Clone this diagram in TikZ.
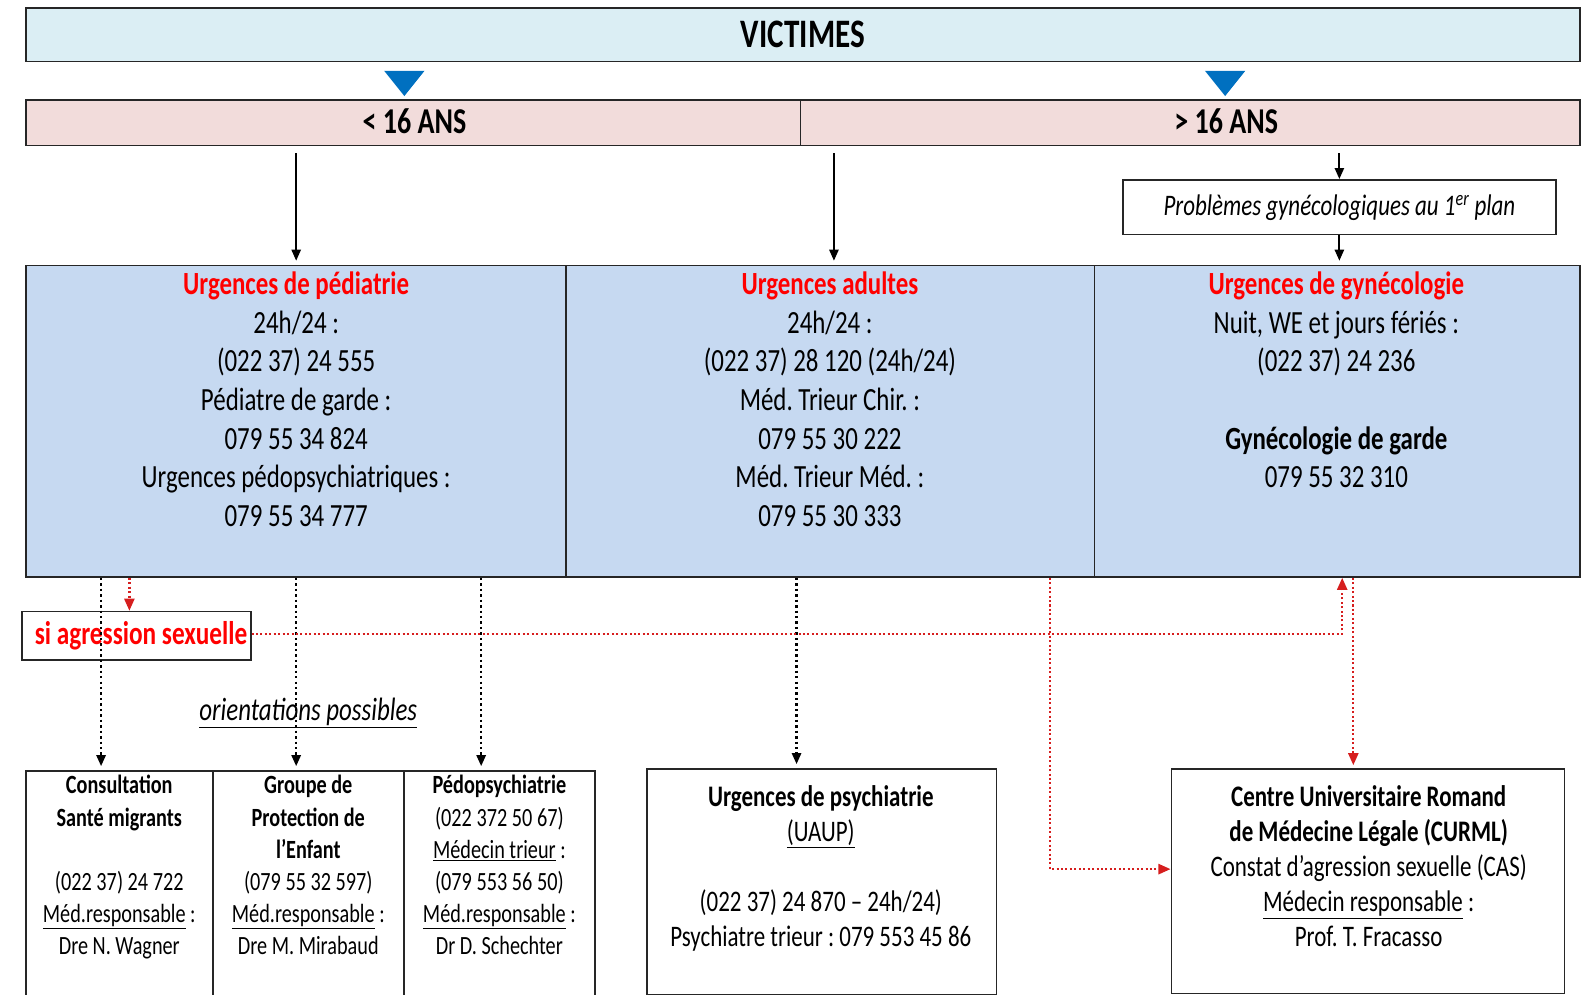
\documentclass[tikz,border=0pt]{standalone}
\usepackage{fontspec}
\setmainfont{Carlito}[FakeStretch=0.77]
\usetikzlibrary{arrows.meta,calc}
\definecolor{victfill}{RGB}{219,238,244}
\definecolor{agefill}{RGB}{242,220,219}
\definecolor{rowfill}{RGB}{198,217,241}
\definecolor{triblue}{RGB}{0,112,192}
\definecolor{urgred}{RGB}{255,0,0}
\definecolor{redline}{RGB}{214,30,30}
\frenchspacing
\newcommand{\hdr}[1]{\textcolor{urgred}{\bfseries #1}}
\tikzset{
  box/.style={draw=black!85, line width=1.6pt, inner sep=0pt, anchor=north west},
  txt/.style={align=center, inner sep=0pt, anchor=north},
  rowfont/.style={font=\frenchspacing\fontsize{32}{38.2}\selectfont},
  tabfont/.style={font=\frenchspacing\fontsize{26}{31.8}\selectfont},
  lowfont/.style={font=\frenchspacing\fontsize{29.5}{34.8}\selectfont},
  arr/.style={line width=2.2pt, -{Triangle[length=11pt,width=9pt]}},
  dotarr/.style={line width=2.4pt, dash pattern=on 2.4pt off 3pt, -{Triangle[length=11pt,width=9pt]}},
  reddot/.style={draw=redline, line width=2.2pt, dash pattern=on 2pt off 2.4pt, -{Triangle[length=12pt,width=10pt]}, color=redline}
}
\begin{document}
\begin{tikzpicture}[x=1pt,y=-1pt]
\useasboundingbox (0,0) rectangle (1568,984);
\clip (0,0) rectangle (1568,984);

% top
\node[box, fill=victfill, minimum width=1537pt, minimum height=53pt] (vict) at (25,7) {};
\node[font=\bfseries\fontsize{40}{48}\selectfont] (victT) at (vict.center) {VICTIMES};
\fill[triblue] (380,70) -- (420,70) -- (400,95) -- cycle;
\fill[triblue] (1192,70) -- (1232,70) -- (1212,95) -- cycle;

\node[box, fill=agefill, minimum width=766pt, minimum height=45pt] (age1) at (25,98) {};
\node[box, fill=agefill, minimum width=771pt, minimum height=45pt] (age2) at (791,98) {};
\node[font=\bfseries\fontsize{36}{43}\selectfont] (ageT1) at (410,120) {< 16 ANS};
\node[font=\bfseries\fontsize{36}{43}\selectfont] (ageT2) at (1213,120) {> 16 ANS};

\node[box, anchor=center, minimum width=428pt, minimum height=54pt,
      font=\itshape\fontsize{29.5}{34}\selectfont] (prob) at (1325,205)
      {Problèmes gynécologiques au 1\textsuperscript{er} plan};

% urgences row
\node[box, fill=rowfill, minimum width=534pt, minimum height=308pt] (ped) at (25,262) {};
\node[box, fill=rowfill, minimum width=523pt, minimum height=308pt] (adu) at (559,262) {};
\node[box, fill=rowfill, minimum width=480pt, minimum height=308pt] (gyn) at (1082,262) {};

\node[txt, rowfont] (pedT) at (293,264.5) {\strut\hdr{Urgences de pédiatrie}\\24h/24 :\\(022 37) 24 555\\Pédiatre de garde :\\079 55 34 824\\Urgences pédopsychiatriques :\\079 55 34 777};
\node[txt, rowfont] (aduT) at (821,264.5) {\strut\hdr{Urgences adultes}\\24h/24 :\\(022 37) 28 120 (24h/24)\\Méd. Trieur Chir. :\\079 55 30 222\\Méd. Trieur Méd. :\\079 55 30 333};
\node[txt, rowfont] (gynT) at (1322,264.5) {\strut\hdr{Urgences de gynécologie}\\Nuit, WE et jours fériés :\\(022 37) 24 236\\\mbox{}\\\textbf{Gynécologie de garde}\\079 55 32 310};

% solid arrows
\coordinate (xA) at ([xshift=266pt]adu.north west);
\draw[arr] ([yshift=-7pt]age1.south -| pedT.north) -- ([yshift=4pt]ped.north -| pedT.north);
\draw[arr] ([yshift=-7pt]age2.south -| xA) -- ([yshift=4pt]adu.north -| xA);
\draw[arr] ([yshift=-7pt]age2.south -| prob.north) -- (prob.north);
\draw[arr] (prob.south) -- ([yshift=4pt]gyn.north -| prob.south);

% si agression sexuelle
\node[box, anchor=center, minimum width=226pt, minimum height=48pt,
      font=\bfseries\fontsize{32.5}{37}\selectfont, text=urgred] (sa) at (135,629) {\hspace{9pt}si agression sexuelle};

\node[font=\itshape\fontsize{32}{37}\selectfont] (ori) at (305,705) {\underline{orientations possibles}};

% bottom boxes
\node[box, minimum width=185pt, minimum height=260pt] (t1) at (25,762) {};
\node[box, minimum width=189pt, minimum height=260pt] (t2) at (210,762) {};
\node[box, minimum width=189pt, minimum height=260pt] (t3) at (399,762) {};
\node[txt, tabfont] (t1T) at (118,763) {\strut\textbf{Consultation}\\\textbf{Santé migrants}\\\mbox{}\\(022 37) 24 722\\\underline{Méd.responsable} :\\Dre N. Wagner};
\node[txt, tabfont] (t2T) at (305,763) {\strut\textbf{Groupe de}\\\textbf{Protection de}\\\textbf{l’Enfant}\\(079 55 32 597)\\\underline{Méd.responsable} :\\Dre M. Mirabaud};
\node[txt, tabfont] (t3T) at (494,763) {\strut\textbf{Pédopsychiatrie}\\(022 372 50 67)\\\underline{Médecin trieur} :\\(079 553 56 50)\\\underline{Méd.responsable} :\\Dr D. Schechter};

\node[box, minimum width=346pt, minimum height=223pt] (psy) at (639,760) {};
\node[box, minimum width=389pt, minimum height=222pt] (cur) at (1158,760) {};
\node[txt, lowfont] (psyT) at (812,773) {\strut\textbf{Urgences de psychiatrie}\\\underline{(UAUP)}\\\mbox{}\\(022 37) 24 870 – 24h/24)\\Psychiatre trieur : 079 553 45 86};
\node[txt, lowfont] (curT) at (1354,773) {\strut\textbf{Centre Universitaire Romand}\\\textbf{de Médecine Légale (CURML)}\\Constat d’agression sexuelle (CAS)\\\underline{Médecin responsable} :\\Prof. T. Fracasso};

% dotted black arrows
\coordinate (o1) at ([xshift=75pt]ped.south west);
\coordinate (o3) at ([xshift=451pt]ped.south west);
\coordinate (o4) at ([xshift=229pt]adu.south west);
\draw[dotarr] (o1) -- ([yshift=4pt]o1 |- t1.north);
\draw[dotarr] (ped.south -| pedT.north) -- ([yshift=4pt]t2.north -| pedT.north);
\draw[dotarr] (o3) -- ([yshift=4pt]o3 |- t3.north);
\draw[dotarr] (o4) -- ([yshift=4pt]o4 |- psy.north);

% red dotted connectors
\coordinate (r1) at ([xshift=103pt]ped.south west);
\coordinate (r2) at ([xshift=-25.5pt]cur.north);
\coordinate (r3) at ([xshift=-14.5pt]cur.north);
\coordinate (r4) at ([xshift=-45pt]adu.south east);
\draw[reddot] (r1) -- (r1 |- sa.north);
\draw[reddot] ([yshift=2pt]sa.east) -| (r2 |- gyn.south);
\draw[reddot] (r3 |- gyn.south) -- ([yshift=3pt]r3);
\draw[reddot] (r4) |- ([yshift=12pt]cur.west);
\end{tikzpicture}
\end{document}
